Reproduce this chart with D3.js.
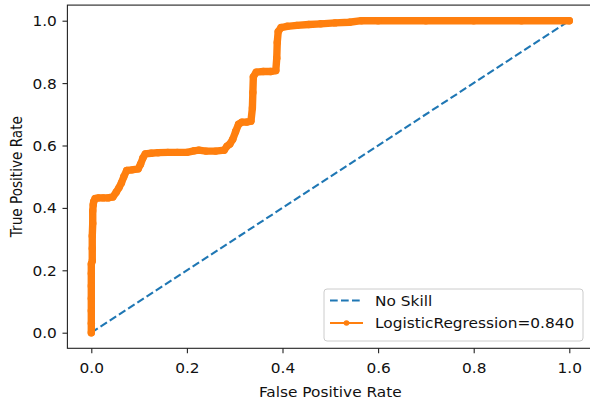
<!DOCTYPE html>
<html>
<head>
<meta charset="utf-8">
<script src="https://cdn.jsdelivr.net/npm/d3@7"></script>
<style>
  html, body { margin: 0; padding: 0; background: #fff; }
  svg { display: block; }
  text { font-family: "DejaVu Sans", sans-serif; fill: #111; }
</style>
</head>
<body>
<svg id="chart" width="590" height="406"></svg>
<script>
// ---- data ----
const noSkillFpr = [0, 1];
const noSkillTpr = [0, 1];

const lrFpr = [0, 0, 0, 0, 0, 0, 0, 0.002, 0.002, 0.002, 0.003, 0.003, 0.004, 0.005, 0.008,
  0.015, 0.025, 0.035, 0.045, 0.052, 0.058, 0.063, 0.068, 0.074, 0.085, 0.098, 0.103, 0.108, 0.113,
  0.125, 0.14, 0.16, 0.18, 0.2, 0.215, 0.225, 0.24, 0.26, 0.278, 0.284, 0.29, 0.296, 0.302, 0.308,
  0.315, 0.325, 0.334, 0.337, 0.338, 0.339, 0.345, 0.36, 0.375, 0.386, 0.388, 0.389, 0.391, 0.397,
  0.41, 0.43, 0.455, 0.48, 0.51, 0.54, 0.565, 0.6, 0.7, 0.8, 0.9, 1.0];
const lrTpr = [0, 0.03, 0.07, 0.11, 0.15, 0.19, 0.22, 0.23, 0.27, 0.31, 0.35, 0.39, 0.41, 0.42, 0.43,
  0.432, 0.432, 0.432, 0.435, 0.45, 0.465, 0.48, 0.5, 0.52, 0.522, 0.525, 0.54, 0.56, 0.573,
  0.575, 0.577, 0.578, 0.578, 0.578, 0.583, 0.585, 0.582, 0.582, 0.585, 0.598, 0.605, 0.62, 0.645, 0.668,
  0.675, 0.675, 0.678, 0.72, 0.77, 0.82, 0.835, 0.837, 0.837, 0.84, 0.88, 0.93, 0.965, 0.978,
  0.982, 0.985, 0.988, 0.99, 0.993, 0.995, 1.0, 1, 1, 1, 1, 1];

const xTicks = [0, 0.2, 0.4, 0.6, 0.8, 1.0];
const yTicks = [0, 0.2, 0.4, 0.6, 0.8, 1.0];
const xTickLabels = ["0.0", "0.2", "0.4", "0.6", "0.8", "1.0"];
const yTickLabels = ["0.0", "0.2", "0.4", "0.6", "0.8", "1.0"];
const seriesNames = ["No Skill", "LogisticRegression=0.840"];
const xLabel = "False Positive Rate";
const yLabel = "True Positive Rate";

// ---- layout ----
const svg = d3.select("#chart");
const L = 67.4, R = 593.2, T = 5.1, B = 348.3;
const x = d3.scaleLinear().domain([-0.05, 1.05]).range([L, R]);
const y = d3.scaleLinear().domain([-0.05, 1.05]).range([B, T]);
const blue = "#1f77b4", orange = "#ff7f0e";
const fs = 13.6, sx = 1.13;

// lines
const line = d3.line().x(d => x(d[0])).y(d => y(d[1]));
const nsData = noSkillFpr.map((v, i) => [v, noSkillTpr[i]]);
const lrData = lrFpr.map((v, i) => [v, lrTpr[i]]);

const plot = svg.append("g");
plot.append("path").datum(nsData).attr("d", line)
  .attr("fill", "none").attr("stroke", blue).attr("stroke-width", 2.1)
  .attr("stroke-dasharray", "7.7,3.3");

// dense markers band
plot.append("path").datum(lrData).attr("d", line)
  .attr("fill", "none").attr("stroke", orange).attr("stroke-width", 7.4)
  .attr("stroke-linejoin", "round").attr("stroke-linecap", "round");
plot.selectAll("circle.mk").data(lrData).enter().append("circle")
  .attr("class", "mk").attr("cx", d => x(d[0])).attr("cy", d => y(d[1]))
  .attr("r", 3.7).attr("fill", orange);

// axes
const xAxis = d3.axisBottom(x).tickValues(xTicks)
  .tickFormat((d, i) => xTickLabels[i]).tickSize(4.9).tickPadding(4.9).tickSizeOuter(0);
const yAxis = d3.axisLeft(y).tickValues(yTicks)
  .tickFormat((d, i) => yTickLabels[i]).tickSize(4.9).tickPadding(4.9).tickSizeOuter(0);

const gx = svg.append("g").attr("transform", `translate(0,${B})`).call(xAxis);
const gy = svg.append("g").attr("transform", `translate(${L},0)`).call(yAxis);
[gx, gy].forEach(g => {
  g.select(".domain").remove();
  g.selectAll(".tick line").attr("stroke", "#222").attr("stroke-width", 1.1);
  g.selectAll(".tick text").attr("font-size", fs).attr("font-family", "DejaVu Sans").attr("fill", "#111");
});
gx.selectAll(".tick text").attr("y", null).attr("dy", null)
  .attr("transform", `translate(0,25) scale(${sx},1)`);
gy.selectAll(".tick text").attr("x", null).attr("dy", null)
  .attr("transform", `translate(-10.6,5) scale(${sx},1)`);

// frame
svg.append("rect").attr("x", L).attr("y", T).attr("width", R - L).attr("height", B - T)
  .attr("fill", "none").attr("stroke", "#222").attr("stroke-width", 1.1);

// axis labels
svg.append("text").attr("transform", `translate(${(L + R) / 2},396.5) scale(${sx},1)`)
  .attr("text-anchor", "middle").attr("font-size", fs).text(xLabel);
svg.append("text").attr("transform", `translate(22,${(T + B) / 2}) scale(${sx},1) rotate(-90)`)
  .attr("text-anchor", "middle").attr("font-size", fs).text(yLabel);

// legend
const lg = svg.append("g");
lg.append("rect").attr("x", 324).attr("y", 289).attr("width", 259).attr("height", 52)
  .attr("rx", 3).attr("fill", "#fff").attr("fill-opacity", 0.8)
  .attr("stroke", "#cccccc").attr("stroke-width", 1);
lg.append("line").attr("x1", 330).attr("x2", 363).attr("y1", 300.5).attr("y2", 300.5)
  .attr("stroke", blue).attr("stroke-width", 2.1).attr("stroke-dasharray", "7.7,3.3");
lg.append("line").attr("x1", 330).attr("x2", 363).attr("y1", 323).attr("y2", 323)
  .attr("stroke", orange).attr("stroke-width", 2.1);
lg.append("circle").attr("cx", 346.5).attr("cy", 323).attr("r", 2.8).attr("fill", orange);
lg.append("text").attr("transform", `translate(375,305.5) scale(${sx},1)`)
  .attr("font-size", fs).text(seriesNames[0]);
lg.append("text").attr("transform", `translate(375,328) scale(${sx},1)`)
  .attr("font-size", fs).text(seriesNames[1]);
</script>
</body>
</html>
